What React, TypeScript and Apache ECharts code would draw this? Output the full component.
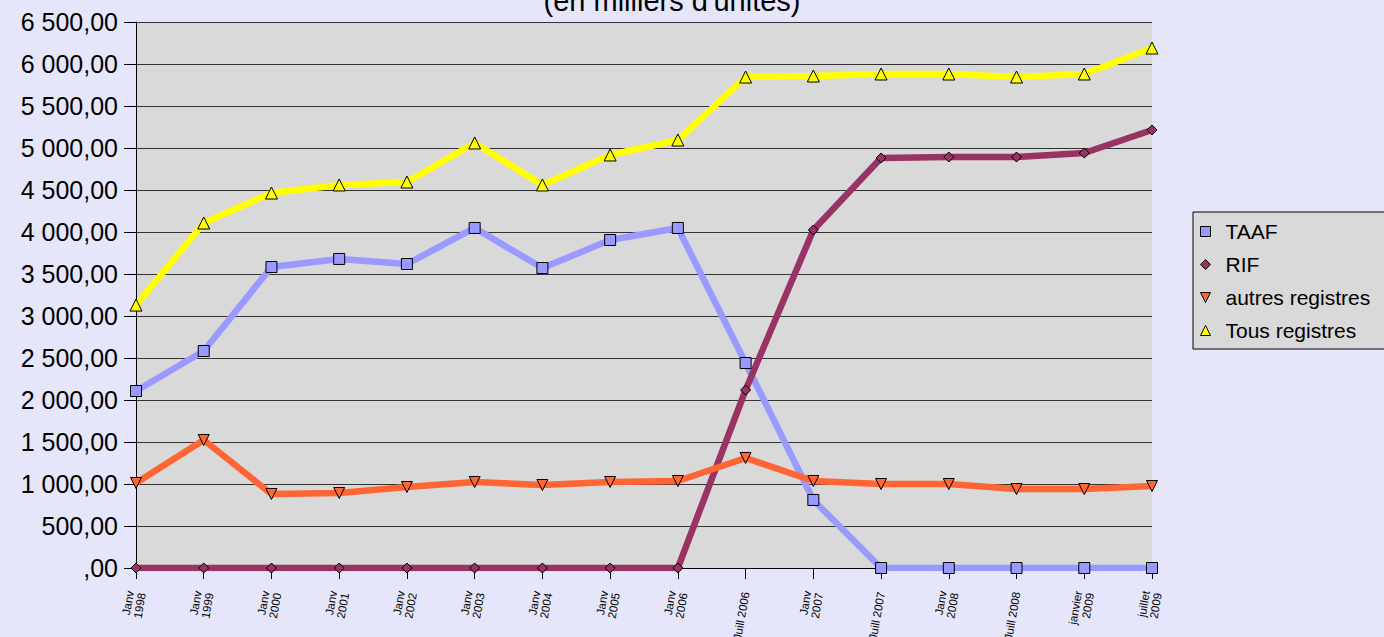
import React, { useEffect, useRef } from "react";
import * as echarts from "echarts";

const categories = [
  "Janv\n1998", "Janv\n1999", "Janv\n2000", "Janv\n2001", "Janv\n2002", "Janv\n2003",
  "Janv\n2004", "Janv\n2005", "Janv\n2006", "Juill 2006", "Janv\n2007", "Juill 2007",
  "Janv\n2008", "Juill 2008", "janvier\n2009", "juillet\n2009",
];

const taaf = [2107, 2583, 3583, 3679, 3619, 4048, 3571, 3905, 4048, 2440, 810, 0, 0, 0, 0, 0];
const rif = [0, 0, 0, 0, 0, 0, 0, 0, 0, 2119, 4024, 4881, 4893, 4893, 4940, 5214];
const autres = [1012, 1524, 881, 893, 964, 1024, 988, 1024, 1036, 1310, 1036, 1000, 1000, 940, 940, 976];
const tous = [3130, 4107, 4464, 4560, 4595, 5060, 4560, 4917, 5095, 5845, 5857, 5881, 5881, 5845, 5881, 6190];

const titleText = "(en milliers d'unités)";
const FONT = "'Liberation Sans', Arial, sans-serif";
const DOWN_TRI = "path://M0,0 L10,0 L5,10 Z";

function fmt(v: number): string {
  if (v === 0) return ",00";
  const s = String(Math.round(v)).replace(/\B(?=(\d{3})+(?!\d))/g, " ");
  return s + ",00";
}

export default function App() {
  const ref = useRef<HTMLDivElement>(null);
  useEffect(() => {
    if (!ref.current) return;
    const chart = echarts.init(ref.current, undefined, { renderer: "svg" });
    const mk = (name: string, data: number[], color: string, symbol: string, size: number) => ({
      name,
      type: "line",
      data,
      symbol,
      symbolSize: size,
      showAllSymbol: true,
      lineStyle: { color, width: 6.5 },
      itemStyle: { color, borderColor: "#000", borderWidth: 1 },
      emphasis: { disabled: true },
    });
    chart.setOption({
      animation: false,
      backgroundColor: "#e6e6fa",
      textStyle: { fontFamily: FONT },
      graphic: [
        {
          type: "text",
          x: 672,
          y: 15,
          style: {
            text: titleText,
            fill: "#000",
            font: `29px ${FONT}`,
            textAlign: "center",
            textVerticalAlign: "bottom",
          },
        },
      ],
      legend: {
        orient: "vertical",
        left: 1193,
        top: 212,
        backgroundColor: "#d9d9d9",
        borderColor: "#000",
        borderWidth: 1,
        borderRadius: 0,
        padding: [9, 20, 8, 7],
        itemGap: 12,
        itemWidth: 10,
        itemHeight: 10,
        textStyle: { fontSize: 21, color: "#000", fontFamily: FONT, padding: [0, 0, 0, 10] },
        data: [
          { name: "TAAF", icon: "rect" },
          { name: "RIF", icon: "diamond" },
          { name: "autres registres", icon: DOWN_TRI },
          { name: "Tous registres", icon: "triangle" },
        ],
        itemStyle: { borderColor: "#000", borderWidth: 1 },
      },
      grid: {
        left: 136,
        right: 232,
        top: 22,
        bottom: 69,
        show: true,
        backgroundColor: "#d9d9d9",
        borderWidth: 0,
        containLabel: false,
        outerBoundsMode: "none",
      },
      xAxis: {
        type: "category",
        data: categories,
        boundaryGap: false,
        axisLine: { show: true, lineStyle: { color: "#000", width: 1 } },
        axisTick: { show: true, alignWithLabel: true, length: 11, lineStyle: { color: "#000" } },
        axisLabel: {
          interval: 0,
          rotate: 80,
          fontSize: 11.5,
          color: "#000",
          margin: 24,
          lineHeight: 12,
          fontFamily: FONT,
        },
        splitLine: { show: false },
      },
      yAxis: {
        type: "value",
        min: 0,
        max: 6500,
        interval: 500,
        axisLine: { show: true, lineStyle: { color: "#000", width: 1 } },
        axisTick: { show: true, length: 12, lineStyle: { color: "#000" } },
        axisLabel: {
          formatter: fmt,
          fontSize: 25,
          color: "#000",
          margin: 18,
          fontFamily: FONT,
        },
        splitLine: { show: true, lineStyle: { color: "#333", width: 1 } },
      },
      series: [
        mk("TAAF", taaf, "#9999ff", "rect", 11),
        mk("RIF", rif, "#993366", "diamond", 10),
        mk("autres registres", autres, "#ff6633", DOWN_TRI, 11),
        mk("Tous registres", tous, "#ffff00", "triangle", 12),
      ],
    });
    return () => chart.dispose();
  }, []);
  return (
    <div
      ref={ref}
      style={{ position: "absolute", left: 0, top: 0, width: 1384, height: 637 }}
    />
  );
}
